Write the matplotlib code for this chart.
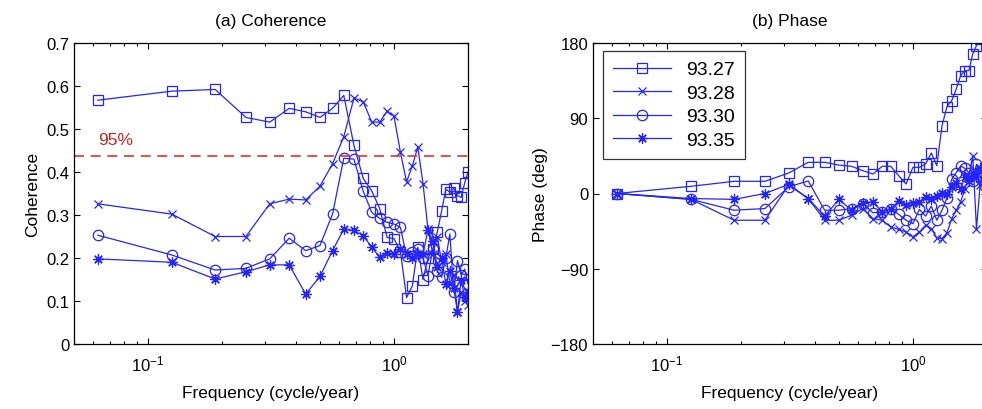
import numpy as np
import matplotlib
matplotlib.use("Agg")
import matplotlib.pyplot as plt
from matplotlib.ticker import LogLocator, NullFormatter

plt.rcParams['font.family'] = ['Liberation Sans', 'DejaVu Sans']
plt.rcParams['axes.unicode_minus'] = True

# frequency index k -> k/16 cycle/year
k = np.arange(1, 33)
freq = k / 16.0

labels = ["93.27", "93.28", "93.30", "93.35"]

coh_9327 = [0.567, 0.588, 0.592, 0.527, 0.516, 0.548, 0.540, 0.527, 0.548, 0.578,
            0.462, 0.385, 0.356, 0.315, 0.248, 0.245, 0.215, 0.108, 0.135, 0.225,
            0.150, 0.200, 0.220, 0.260, 0.310, 0.360, 0.353, 0.362, 0.345, 0.341,
            0.374, 0.400]
coh_9328 = [0.326, 0.302, 0.250, 0.250, 0.326, 0.337, 0.335, 0.367, 0.419, 0.482,
            0.572, 0.563, 0.516, 0.516, 0.541, 0.530, 0.446, 0.377, 0.414, 0.458,
            0.373, 0.267, 0.210, 0.250, 0.190, 0.210, 0.140, 0.160, 0.075, 0.120,
            0.100, 0.090]
coh_9330 = [0.253, 0.207, 0.172, 0.176, 0.198, 0.246, 0.217, 0.229, 0.302, 0.432,
            0.430, 0.355, 0.306, 0.292, 0.283, 0.279, 0.271, 0.205, 0.215, 0.221,
            0.200, 0.159, 0.220, 0.170, 0.155, 0.200, 0.256, 0.120, 0.194, 0.160,
            0.174, 0.140]
coh_9335 = [0.198, 0.190, 0.151, 0.168, 0.184, 0.184, 0.116, 0.157, 0.217, 0.267,
            0.264, 0.252, 0.225, 0.202, 0.211, 0.210, 0.220, 0.210, 0.200, 0.210,
            0.210, 0.265, 0.240, 0.180, 0.200, 0.140, 0.170, 0.130, 0.074, 0.150,
            0.110, 0.120]

ph_9327 = [0, 8.6, 14.6, 14.6, 24.5, 37.3, 37.3, 34, 32.5, 27.3,
           23.3, 32.5, 32.5, 21.3, 11.4, 31.3, 31.3, 35.3, 48.4, 33.2,
           81, 104, 111, 125, 141, 147, 147, 167, 177, 185,
           190, 195]
ph_9328 = [0, -7, -32, -32, 10, -6, -32, -32, -26, -18,
           -30, -32, -40, -43, -46, -52, -46, -38, -42, -53,
           -54, -47, -30, -20, -10, 5, 20, 45, -42, 10,
           30, 0]
ph_9330 = [0, -7, -20, -18, 8, 15, -20, -20, -18, -12,
           -23, -22, -18, -25, -32, -36, -19, -27, -15, -32,
           -20, -5, 17, 25, 33, 30, 25, 15, 35, 20,
           10, 5]
ph_9335 = [0, -6, -7, 0, 11, -6, -27, -7, -20, -11,
           -10, -22, -18, -9, -14, -11, -10, -4, -7, -3,
           1, -1, 8, 12, 5, 20, 15, 25, 20, 30,
           25, 20]

coh_series = [coh_9327, coh_9328, coh_9330, coh_9335]
ph_series = [ph_9327, ph_9328, ph_9330, ph_9335]
sig95 = 0.437

blue = '#2424ff'
markers = ["s", "x", "o", (8, 2, 0)]
msizes = [7, 6, 7.5, 7.5]

fig = plt.figure(figsize=(9.82, 4.10), dpi=100)
ax1 = fig.add_axes([74/982, 65/410, 394/982, 301/410])
ax2 = fig.add_axes([593/982, 65/410, 394/982, 301/410])

for ax in (ax1, ax2):
    ax.set_xscale('log')
    ax.set_xlim(0.05, 2.0)
    ax.xaxis.set_major_locator(LogLocator(base=10, numticks=10))
    ax.xaxis.set_minor_locator(LogLocator(base=10, subs=np.arange(2, 10), numticks=10))
    ax.xaxis.set_minor_formatter(NullFormatter())
    ax.tick_params(which='both', direction='in', top=True, right=True,
                   labelsize=12, width=0.8)
    ax.tick_params(which='major', length=4)
    ax.tick_params(which='minor', length=2.5)
    ax.tick_params(axis='x', which='major', pad=7)
    for s in ax.spines.values():
        s.set_linewidth(0.9)
    ax.set_xlabel('Frequency (cycle/year)', fontsize=12.5, labelpad=8)

for vals, m, ms, lab in zip(coh_series, markers, msizes, labels):
    ax1.plot(freq, vals, marker=m, color=blue, lw=0.9, ms=ms,
             mfc='none', mec=blue, mew=0.9, label=lab)
ax1.axhline(sig95, color='#dd3333', lw=1.2, dashes=(6, 4))
ax1.text(0.0625, sig95 + 0.02, '95%', color='#cc2222', fontsize=12.5,
         ha='left', va='bottom')
ax1.set_ylim(0, 0.7)
ax1.set_yticks(np.arange(0, 0.71, 0.1))
ax1.set_yticklabels(['0', '0.1', '0.2', '0.3', '0.4', '0.5', '0.6', '0.7'])
ax1.set_ylabel('Coherence', fontsize=12.5)
ax1.set_title('(a) Coherence', fontsize=12.5, pad=13)

for vals, m, ms, lab in zip(ph_series, markers, msizes, labels):
    ax2.plot(freq, vals, marker=m, color=blue, lw=0.9, ms=ms,
             mfc='none', mec=blue, mew=0.9, label=lab)
ax2.set_ylim(-180, 180)
ax2.set_yticks([-180, -90, 0, 90, 180])
ax2.set_ylabel('Phase (deg)', fontsize=12.5, labelpad=2)
ax2.set_title('(b) Phase', fontsize=12.5, pad=13)
leg = ax2.legend(loc='upper left', fontsize=14, frameon=True, fancybox=False,
                 edgecolor='black', borderpad=0.5, handlelength=3.0,
                 borderaxespad=0.0, bbox_to_anchor=(0.025, 0.973),
                 labelspacing=0.3)
leg.get_frame().set_linewidth(0.9)

fig.savefig('out.png', dpi=100)
